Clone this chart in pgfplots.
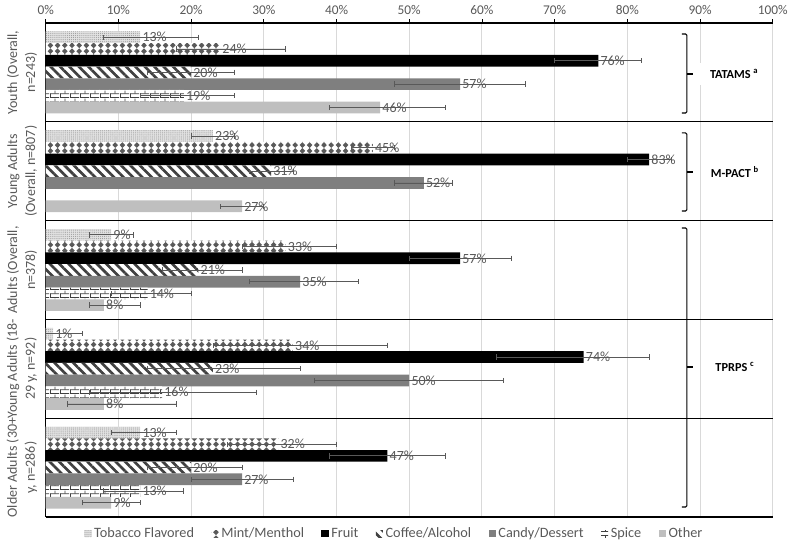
\documentclass[border=0pt]{standalone}
\usepackage{pgfplots}
\pgfplotsset{compat=1.18}
\usepackage{fontspec}
\setmainfont{Carlito}
\usetikzlibrary{patterns,patterns.meta}

\definecolor{tickgray}{HTML}{595959}
\definecolor{gridgray}{HTML}{D9D9D9}
\definecolor{candy}{HTML}{7F7F7F}
\definecolor{othergray}{HTML}{BFBFBF}
\definecolor{tobfill}{HTML}{E2E2E2}
\definecolor{dotgray}{HTML}{9A9A9A}
\definecolor{mintgray}{HTML}{5A5A5A}
\definecolor{stripe}{HTML}{404040}
\definecolor{errgray}{HTML}{595959}

\tikzdeclarepattern{
  name=mydiamonds,
  type=uncolored,
  bounding box={(-2.7pt,-2.2pt) and (2.7pt,2.2pt)},
  tile size={(5.4pt,4.4pt)},
  code={\fill (0,-2.15pt) -- (2.1pt,0) -- (0,2.15pt) -- (-2.1pt,0) -- cycle;}
}
\tikzdeclarepattern{
  name=mybricks,
  type=uncolored,
  bounding box={(0,0) and (7.5pt,5.8pt)},
  tile size={(7.5pt,5.8pt)},
  code={
    \draw[line width=0.6pt] (0,0.4pt) -- (7.5pt,0.4pt) (0,3.3pt) -- (7.5pt,3.3pt);
    \draw[line width=0.6pt] (0.4pt,0.4pt) -- (0.4pt,3.3pt) (4.1pt,3.3pt) -- (4.1pt,5.8pt);
  }
}

\begin{document}
\begin{tikzpicture}
\path[use as bounding box] (-34.3pt,-20.25pt) rectangle (558.2pt,387.75pt);
\begin{axis}[
  scale only axis, width=545.25pt, height=370.5pt,
  xbar, bar width=0.1185,
  legend image code/.code={\draw[#1,draw=none] (0pt,-2.7pt) rectangle (5.4pt,2.7pt);},
  xmin=0, xmax=100, ymin=-0.5, ymax=4.5,
  axis x line*=top, axis y line*=left,
  axis line style={black, line width=0.8pt},
  xtick={0,10,20,30,40,50,60,70,80,90,100},
  xticklabels={0\%,10\%,20\%,30\%,40\%,50\%,60\%,70\%,80\%,90\%,100\%},
  xticklabel style={font=\fontsize{10}{12}\selectfont, text=tickgray},
  x tick style={black, line width=0.6pt},
  tick align=outside, major tick length=3pt,
  xmajorgrids=true,
  major grid style={gridgray, line width=0.75pt},
  ytick={0,1,2,3,4},
  yticklabels={{Older Adults (30+\\y, n=286)},{Young Adults (18-\\29 y, n=92)},{Adults (Overall,\\n=378)},{Young Adults\\(Overall, n=807)},{Youth (Overall,\\n=243)}},
  yticklabel style={rotate=90, anchor=south, align=center, font=\fontsize{10.5}{13.5}\selectfont, text=tickgray},
  y tick style={draw=none},
  extra y ticks={-0.5,0.5,1.5,2.5,3.5},
  extra y tick labels={},
  extra y tick style={ymajorgrids=true, major grid style={black, line width=0.8pt}, y tick style={draw=none}},
  error bars/x dir=both, error bars/x explicit,
  error bars/error bar style={errgray, line width=0.6pt},
  error bars/error mark options={errgray, line width=0.6pt, mark size=2pt, rotate=90},
  point meta=x,
  nodes near coords={\pgfmathprintnumber[assume math mode=true]{\pgfplotspointmeta}\%},
  nodes near coords align={horizontal},
  every node near coord/.append style={font=\fontsize{10.5}{12}\selectfont, text=tickgray, inner sep=1.5pt},
  legend style={at={(axis description cs:0.48,0)}, anchor=center, yshift=-12.5pt, draw=none, fill=none,
    font=\fontsize{10.7}{12}\selectfont, text=tickgray,
    /tikz/every even column/.append style={column sep=11pt}},
  legend columns=-1,
]
% Tobacco Flavored
\addplot[bar shift=0.3555, draw=none, fill=tobfill, postaction={pattern={Dots[radius=0.38pt,distance=1.45pt]}, pattern color=dotgray}]
 coordinates {(13,4) += (8,0) -= (5,0) (23,3) += (3,0) -= (3,0) (9,2) += (3,0) -= (3,0) (1,1) += (4,0) -= (1,0) (13,0) += (5,0) -= (4,0)};
% Mint/Menthol
\addplot[bar shift=0.237, draw=none, fill=white, postaction={pattern=mydiamonds, pattern color=mintgray}]
 coordinates {(24,4) += (9,0) -= (6,0) (45,3) += (3,0) -= (3,0) (33,2) += (7,0) -= (6,0) (34,1) += (13,0) -= (11,0) (32,0) += (8,0) -= (7,0)};
% Fruit
\addplot[bar shift=0.1185, draw=none, fill=black]
 coordinates {(76,4) += (6,0) -= (6,0) (83,3) += (3,0) -= (3,0) (57,2) += (7,0) -= (7,0) (74,1) += (9,0) -= (12,0) (47,0) += (8,0) -= (8,0)};
% Coffee/Alcohol
\addplot[bar shift=0, draw=none, fill=white, postaction={pattern={Lines[angle=-45,distance=5pt,line width=2pt]}, pattern color=stripe}]
 coordinates {(20,4) += (6,0) -= (6,0) (31,3) += (3,0) -= (3,0) (21,2) += (6,0) -= (5,0) (23,1) += (12,0) -= (9,0) (20,0) += (7,0) -= (6,0)};
% Candy/Dessert
\addplot[bar shift=-0.1185, draw=none, fill=candy]
 coordinates {(57,4) += (9,0) -= (9,0) (52,3) += (4,0) -= (4,0) (35,2) += (8,0) -= (7,0) (50,1) += (13,0) -= (13,0) (27,0) += (7,0) -= (7,0)};
% Spice
\addplot[bar shift=-0.237, draw=none, fill=white, postaction={pattern=mybricks, pattern color=stripe}]
 coordinates {(19,4) += (7,0) -= (6,0) (14,2) += (6,0) -= (5,0) (16,1) += (13,0) -= (10,0) (13,0) += (6,0) -= (5,0)};
% Other
\addplot[bar shift=-0.3555, draw=none, fill=othergray]
 coordinates {(46,4) += (9,0) -= (7,0) (27,3) += (3,0) -= (3,0) (8,2) += (5,0) -= (2,0) (8,1) += (10,0) -= (5,0) (9,0) += (4,0) -= (4,0)};
\legend{Tobacco Flavored, Mint/Menthol, Fruit, Coffee/Alcohol, Candy/Dessert, Spice, Other}

% braces
\draw[black, line width=0.8pt, rounded corners=1pt] (axis cs:87.5,4.389) -- (axis cs:88.2,4.389) -- (axis cs:88.2,3.589) -- (axis cs:87.5,3.589);
\draw[black, line width=0.8pt] (axis cs:88.2,3.984) -- (axis cs:89,3.984);
\draw[black, line width=0.8pt, rounded corners=1pt] (axis cs:87.5,3.387) -- (axis cs:88.2,3.387) -- (axis cs:88.2,2.597) -- (axis cs:87.5,2.597);
\draw[black, line width=0.8pt] (axis cs:88.2,2.992) -- (axis cs:89,2.992);
\draw[black, line width=0.8pt, rounded corners=1pt] (axis cs:87.5,2.425) -- (axis cs:88.2,2.425) -- (axis cs:88.2,-0.399) -- (axis cs:87.5,-0.399);
\draw[black, line width=0.8pt] (axis cs:88.2,1.018) -- (axis cs:89,1.018);
\node[fill=white, font=\bfseries\fontsize{9.2}{11}\selectfont, inner xsep=8pt, inner ysep=5pt] at (axis cs:94.7,3.984) {TATAMS \textsuperscript{a}};
\node[fill=white, font=\bfseries\fontsize{9.2}{11}\selectfont, inner xsep=3pt, inner ysep=3pt] at (axis cs:94.8,2.992) {M-PACT \textsuperscript{b}};
\node[fill=white, font=\bfseries\fontsize{9.2}{11}\selectfont, inner xsep=3pt, inner ysep=3pt] at (axis cs:94.8,1.018) {TPRPS \textsuperscript{c}};
\end{axis}
\end{tikzpicture}
\end{document}
